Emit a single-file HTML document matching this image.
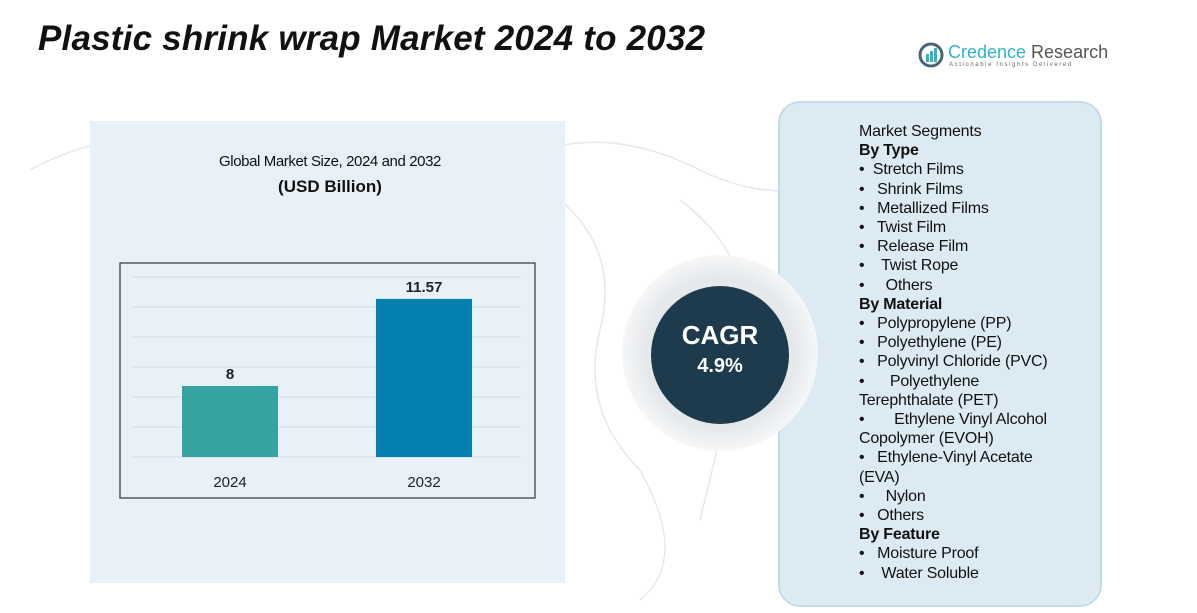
<!DOCTYPE html>
<html><head><meta charset="utf-8"><style>
body{margin:0;width:1197px;height:613px;background:#fff;position:relative;overflow:hidden;font-family:"Liberation Sans",sans-serif}
.abs{position:absolute}
#title{left:38px;top:19px;font-size:35px;font-weight:bold;font-style:italic;color:#111;letter-spacing:0.2px}
#left-panel{left:90px;top:121px;width:475px;height:462px;background:#e8f1f8}
#seg{left:778px;top:101px;width:320px;height:502px;background:#dcebf3;border:2px solid #c5dbe8;border-radius:22px}
#seg-text{left:859px;top:122px;font-size:16px;line-height:19.2px;color:#111;letter-spacing:-0.2px}
#seg-text b{font-weight:bold}
</style></head><body>
<svg class="abs" style="left:0;top:0" width="1197" height="613">
<g fill="none" stroke="#e3e9ee" stroke-width="1.5">
<path d="M30 170 Q120 120 260 140 T520 160 Q600 120 700 170 T900 150"/>
<path d="M560 200 Q620 250 600 330 T640 470 Q690 560 640 600"/>
<path d="M680 200 Q760 260 740 350 T700 520"/>
</g></svg>
<div id="title" class="abs">Plastic shrink wrap Market 2024 to 2032</div>
<div class="abs" style="left:918px;top:42px">
<svg width="26" height="26" style="position:absolute;left:0;top:0"><circle cx="13" cy="13" r="11" fill="none" stroke="#4a6475" stroke-width="3"/><rect x="8" y="12" width="3" height="8" fill="#2fb3c6"/><rect x="12" y="9" width="3" height="11" fill="#2fb3c6"/><rect x="16" y="6" width="3" height="14" fill="#2fb3c6"/></svg>
<div style="position:absolute;left:30px;top:0;font-size:18px;color:#555;white-space:nowrap"><span style="color:#2fb3c6">Credence</span> Research</div>
<div style="position:absolute;left:31px;top:20px;font-size:6px;color:#666;letter-spacing:1.6px;white-space:nowrap">Actionable Insights Delivered</div>
</div>
<div id="left-panel" class="abs"></div>
<div class="abs" style="left:190px;top:153px;width:280px;text-align:center;font-size:15px;color:#111;letter-spacing:-0.4px">Global Market Size, 2024 and 2032</div>
<div class="abs" style="left:190px;top:177px;width:280px;text-align:center;font-size:17px;font-weight:bold;color:#111">(USD Billion)</div>
<svg id="chart" class="abs" style="left:0;top:0" width="1197" height="613"></svg>
<div id="seg" class="abs"></div>
<div class="abs" style="left:622px;top:255px;width:196px;height:196px;border-radius:50%;background:radial-gradient(circle,#e6e9ec 55%,#f5f6f7 70%,rgba(255,255,255,0) 72%)"></div>
<div class="abs" style="left:651px;top:286px;width:138px;height:138px;border-radius:50%;background:#1d3b4c;color:#fff;text-align:center">
<div style="margin-top:34px;font-size:26px;font-weight:bold">CAGR</div><div style="font-size:20px;font-weight:bold;margin-top:4px">4.9%</div></div>
<div id="seg-text" class="abs">
Market Segments<br><b>By Type</b><br>•&nbsp; Stretch Films<br>•&nbsp;&nbsp; Shrink Films<br>•&nbsp;&nbsp; Metallized Films<br>•&nbsp;&nbsp; Twist Film<br>•&nbsp;&nbsp; Release Film<br>•&nbsp;&nbsp;&nbsp; Twist Rope<br>•&nbsp;&nbsp;&nbsp;&nbsp; Others<br><b>By Material</b><br>•&nbsp;&nbsp; Polypropylene (PP)<br>•&nbsp;&nbsp; Polyethylene (PE)<br>•&nbsp;&nbsp; Polyvinyl Chloride (PVC)<br>•&nbsp;&nbsp;&nbsp;&nbsp;&nbsp; Polyethylene<br>Terephthalate (PET)<br>•&nbsp;&nbsp;&nbsp;&nbsp;&nbsp;&nbsp; Ethylene Vinyl Alcohol<br>Copolymer (EVOH)<br>•&nbsp;&nbsp; Ethylene-Vinyl Acetate<br>(EVA)<br>•&nbsp;&nbsp;&nbsp;&nbsp; Nylon<br>•&nbsp;&nbsp; Others<br><b>By Feature</b><br>•&nbsp;&nbsp; Moisture Proof<br>•&nbsp;&nbsp;&nbsp; Water Soluble
</div>
<script>
const categories=["2024","2032"];
const values=[8,11.57];
const colors=["#34a3a2","#0480b0"];
const NS="http://www.w3.org/2000/svg";
const svg=document.getElementById('chart');
const base=457, vmin=5.09, k=24.4;
function y(v){return base-(v-vmin)*k;}
function x(i){return 182+i*194;}
function mk(t,a){const e=document.createElementNS(NS,t);for(const n in a)e.setAttribute(n,a[n]);svg.appendChild(e);return e;}
const fr=mk('rect',{x:120,y:263,width:415,height:235,fill:'none',stroke:'#333','stroke-width':1.2});


for(let g=0;g<7;g++){const l=mk('line',{x1:132,x2:521,y1:base-g*30,y2:base-g*30,stroke:'#d3d9de','stroke-width':1});

}
values.forEach((v,i)=>{
const b=mk('rect',{x:x(i),y:y(v),width:96,height:base-y(v),fill:colors[i]});


const t=mk('text',{x:x(i)+48,y:y(v)-7,'text-anchor':'middle','font-size':15,'font-weight':'bold',fill:'#222'});t.textContent=String(v);


const c=mk('text',{x:x(i)+48,y:487,'text-anchor':'middle','font-size':15,fill:'#222'});c.textContent=categories[i];


});
</script>
</body></html>
